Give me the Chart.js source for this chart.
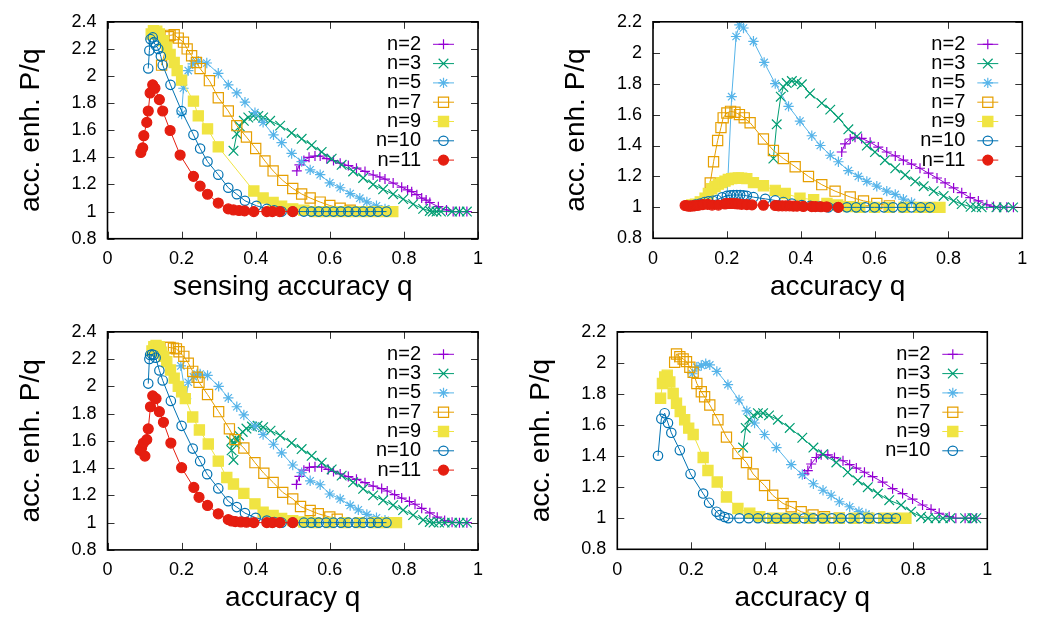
<!DOCTYPE html>
<html lang="en">
<head>
<meta charset="UTF-8">
<title>Accuracy enhancement P/q</title>
<script src="https://cdn.jsdelivr.net/npm/chart.js"></script>
<style>
    body { margin: 0; background: #fff; }
    #wrap { position: relative; width: 1038px; height: 619px; }
    #wrap canvas { position: absolute; }
</style>
</head>
<body>
<div id="wrap">
    <canvas id="pA" width="519" height="310" style="left:0;top:0"></canvas>
    <canvas id="pB" width="519" height="310" style="left:519px;top:0"></canvas>
    <canvas id="pC" width="519" height="309" style="left:0;top:310px"></canvas>
    <canvas id="pD" width="519" height="309" style="left:519px;top:310px"></canvas>
</div>
<script>
// series labels and axis ticks
const seriesNames = ['n=2', 'n=3', 'n=5', 'n=7', 'n=9', 'n=10', 'n=11'];
const xTickValues = [0, 0.2, 0.4, 0.6, 0.8, 1];

// panel A (top left) : [q, P/q]
const a2 = [[0.511,1.30],[0.518,1.345],[0.53,1.376],[0.544,1.40],[0.56,1.41],[0.574,1.41],[0.592,1.39],[0.61,1.376],[0.628,1.357],[0.65,1.34],[0.672,1.32],[0.695,1.296],[0.717,1.27],[0.735,1.255],[0.749,1.24],[0.771,1.21],[0.794,1.18],[0.81,1.16],[0.821,1.147],[0.835,1.125],[0.848,1.10],[0.86,1.085],[0.87,1.067],[0.893,1.036],[0.915,1.012],[0.933,1.0],[0.95,1.0],[0.97,1.0]];
const a3 = [[0.34,1.448],[0.349,1.573],[0.357,1.629],[0.368,1.67],[0.38,1.694],[0.394,1.706],[0.407,1.706],[0.42,1.694],[0.439,1.67],[0.466,1.634],[0.497,1.58],[0.524,1.537],[0.551,1.49],[0.578,1.44],[0.605,1.39],[0.632,1.345],[0.663,1.296],[0.69,1.248],[0.717,1.2],[0.744,1.164],[0.771,1.128],[0.798,1.092],[0.825,1.055],[0.852,1.02],[0.87,1.005],[0.878,1.0],[0.888,1.0],[0.9,1.0],[0.93,1.0],[0.95,1.0],[0.97,1.0]];
const a5 = [[0.2,1.72],[0.205,1.91],[0.218,2.04],[0.23,2.09],[0.245,2.11],[0.268,2.096],[0.299,2.02],[0.326,1.935],[0.349,1.875],[0.371,1.807],[0.398,1.73],[0.42,1.658],[0.448,1.566],[0.47,1.508],[0.497,1.429],[0.524,1.369],[0.547,1.308],[0.574,1.272],[0.6,1.212],[0.628,1.176],[0.655,1.133],[0.681,1.099],[0.7,1.072],[0.726,1.043],[0.749,1.02],[0.76,1.01]];
const a7 = [[0.146,2.08],[0.165,2.29],[0.169,2.30],[0.18,2.305],[0.191,2.28],[0.205,2.25],[0.215,2.2],[0.227,2.15],[0.24,2.10],[0.25,2.055],[0.275,1.966],[0.299,1.84],[0.326,1.742],[0.349,1.634],[0.375,1.55],[0.4,1.465],[0.425,1.373],[0.447,1.30],[0.473,1.23],[0.5,1.17],[0.524,1.13],[0.547,1.10],[0.574,1.07],[0.6,1.045],[0.628,1.025],[0.655,1.01]];
const a9 = [[0.118,2.31],[0.124,2.335],[0.133,2.33],[0.14,2.31],[0.151,2.26],[0.16,2.21],[0.169,2.16],[0.18,2.10],[0.188,2.04],[0.2,1.97],[0.232,1.815],[0.245,1.706],[0.27,1.61],[0.299,1.477],[0.395,1.152],[0.42,1.1],[0.447,1.067],[0.47,1.04],[0.5,1.02],[0.53,1.01],[0.56,1.0],[0.59,1.0],[0.62,1.0],[0.65,1.0],[0.68,1.0],[0.71,1.0],[0.74,1.0],[0.77,1.0]];
const a10 = [[0.11,2.056],[0.113,2.188],[0.116,2.272],[0.122,2.285],[0.125,2.248],[0.131,2.224],[0.137,2.2],[0.144,2.145],[0.149,2.08],[0.17,1.935],[0.2,1.742],[0.232,1.566],[0.25,1.465],[0.27,1.369],[0.299,1.272],[0.326,1.176],[0.349,1.128],[0.371,1.08],[0.402,1.043],[0.43,1.02],[0.45,1.01],[0.47,1.0],[0.5,1.0],[0.53,1.0],[0.55,1.0],[0.57,1.0],[0.59,1.0],[0.61,1.0],[0.63,1.0],[0.65,1.0],[0.67,1.0],[0.69,1.0],[0.71,1.0],[0.73,1.0],[0.753,1.0]];
const a11 = [[0.09,1.436],[0.095,1.47],[0.098,1.56],[0.106,1.658],[0.11,1.742],[0.115,1.875],[0.122,1.935],[0.128,1.91],[0.14,1.826],[0.149,1.742],[0.169,1.598],[0.196,1.417],[0.232,1.26],[0.25,1.188],[0.27,1.128],[0.299,1.063],[0.326,1.02],[0.34,1.012],[0.355,1.008],[0.37,1.005],[0.395,1.0],[0.43,1.0],[0.445,1.0],[0.465,1.0],[0.5,1.0]];

// panel B (top right)
const b2 = [[0.511,1.358],[0.52,1.41],[0.534,1.442],[0.547,1.453],[0.565,1.446],[0.588,1.421],[0.61,1.39],[0.633,1.358],[0.656,1.333],[0.678,1.305],[0.7,1.28],[0.723,1.253],[0.746,1.221],[0.769,1.19],[0.791,1.158],[0.814,1.126],[0.836,1.095],[0.859,1.063],[0.881,1.042],[0.904,1.017],[0.922,1.005],[0.94,1.0],[0.958,1.0],[0.976,1.0]];
const b3 = [[0.326,1.316],[0.335,1.537],[0.346,1.716],[0.353,1.779],[0.362,1.804],[0.376,1.817],[0.389,1.81],[0.403,1.796],[0.425,1.737],[0.457,1.674],[0.48,1.632],[0.502,1.579],[0.529,1.505],[0.552,1.459],[0.579,1.4],[0.601,1.358],[0.628,1.305],[0.656,1.253],[0.683,1.21],[0.71,1.168],[0.733,1.137],[0.76,1.105],[0.787,1.074],[0.814,1.042],[0.836,1.021],[0.86,1.004],[0.875,1.0],[0.89,1.0],[0.93,1.0],[0.95,1.0],[0.975,1.0]];
const b5 = [[0.2,1.04],[0.213,1.716],[0.225,2.105],[0.234,2.18],[0.245,2.16],[0.272,2.074],[0.301,1.937],[0.331,1.8],[0.367,1.653],[0.398,1.558],[0.43,1.463],[0.453,1.4],[0.48,1.337],[0.502,1.295],[0.529,1.238],[0.556,1.2],[0.579,1.168],[0.606,1.137],[0.633,1.105],[0.656,1.084],[0.678,1.053],[0.7,1.032]];
const b7 = [[0.155,1.158],[0.164,1.295],[0.175,1.432],[0.184,1.516],[0.19,1.579],[0.2,1.61],[0.21,1.621],[0.222,1.615],[0.234,1.6],[0.247,1.579],[0.263,1.547],[0.299,1.442],[0.326,1.368],[0.353,1.316],[0.385,1.263],[0.421,1.2],[0.457,1.147],[0.493,1.105],[0.534,1.067],[0.57,1.042],[0.606,1.025],[0.64,1.01]];
const b9 = [[0.105,1.015],[0.115,1.02],[0.128,1.035],[0.141,1.06],[0.15,1.09],[0.159,1.12],[0.168,1.135],[0.177,1.15],[0.186,1.16],[0.195,1.17],[0.204,1.18],[0.213,1.186],[0.222,1.188],[0.231,1.19],[0.24,1.188],[0.254,1.186],[0.272,1.16],[0.299,1.14],[0.331,1.11],[0.358,1.09],[0.398,1.06],[0.435,1.05],[0.471,1.025],[0.5,1.015],[0.53,1.005],[0.56,1.0],[0.6,1.0],[0.64,1.0],[0.68,1.0],[0.72,1.0],[0.75,1.0],[0.777,1.0]];
const b10 = [[0.101,1.01],[0.115,1.018],[0.128,1.025],[0.14,1.035],[0.15,1.04],[0.162,1.043],[0.173,1.048],[0.187,1.065],[0.2,1.075],[0.209,1.078],[0.218,1.08],[0.227,1.08],[0.236,1.08],[0.245,1.078],[0.254,1.075],[0.272,1.066],[0.304,1.055],[0.331,1.045],[0.353,1.035],[0.376,1.025],[0.403,1.015],[0.426,1.01],[0.45,1.005],[0.475,1.0],[0.5,1.0],[0.525,1.0],[0.55,1.0],[0.575,1.0],[0.6,1.0],[0.625,1.0],[0.65,1.0],[0.675,1.0],[0.7,1.0],[0.725,1.0],[0.75,1.0]];
const b11 = [[0.087,1.012],[0.092,1.01],[0.097,1.008],[0.102,1.008],[0.107,1.01],[0.112,1.01],[0.118,1.012],[0.125,1.015],[0.135,1.018],[0.148,1.02],[0.16,1.015],[0.177,1.015],[0.195,1.022],[0.2,1.025],[0.207,1.025],[0.214,1.025],[0.222,1.024],[0.23,1.022],[0.24,1.02],[0.254,1.018],[0.268,1.016],[0.299,1.014],[0.331,1.012],[0.34,1.01],[0.35,1.01],[0.36,1.01],[0.37,1.01],[0.38,1.008],[0.39,1.008],[0.407,1.006],[0.43,1.005],[0.44,1.005],[0.455,1.004],[0.47,1.003],[0.502,1.0]];

// panel C (bottom left)
const c2 = [[0.51,1.28],[0.518,1.34],[0.53,1.385],[0.545,1.405],[0.56,1.41],[0.578,1.408],[0.596,1.39],[0.61,1.376],[0.628,1.357],[0.65,1.338],[0.672,1.318],[0.695,1.293],[0.717,1.268],[0.74,1.25],[0.755,1.232],[0.775,1.205],[0.794,1.18],[0.815,1.155],[0.83,1.135],[0.848,1.105],[0.87,1.072],[0.89,1.04],[0.91,1.015],[0.93,1.003],[0.95,1.0],[0.97,1.0]];
const c3 = [[0.34,1.46],[0.335,1.53],[0.334,1.6],[0.344,1.58],[0.349,1.61],[0.355,1.64],[0.365,1.665],[0.375,1.69],[0.39,1.705],[0.405,1.71],[0.42,1.70],[0.44,1.675],[0.466,1.64],[0.497,1.585],[0.524,1.54],[0.551,1.49],[0.578,1.44],[0.605,1.39],[0.632,1.345],[0.663,1.296],[0.69,1.248],[0.717,1.2],[0.744,1.164],[0.771,1.128],[0.798,1.092],[0.825,1.055],[0.852,1.02],[0.87,1.005],[0.88,1.0],[0.895,1.0],[0.91,1.0],[0.93,1.0],[0.95,1.0],[0.97,1.0]];
const c5 = [[0.198,2.15],[0.212,1.91],[0.218,2.03],[0.232,2.07],[0.242,2.09],[0.25,2.09],[0.27,2.08],[0.3,2.0],[0.326,1.916],[0.349,1.85],[0.368,1.79],[0.398,1.708],[0.42,1.647],[0.448,1.575],[0.47,1.512],[0.5,1.423],[0.524,1.367],[0.547,1.307],[0.574,1.278],[0.6,1.21],[0.628,1.174],[0.655,1.126],[0.677,1.094],[0.7,1.06],[0.726,1.036],[0.749,1.017]];
const c7 = [[0.164,2.285],[0.169,2.285],[0.178,2.28],[0.186,2.275],[0.193,2.254],[0.206,2.22],[0.218,2.17],[0.23,2.11],[0.242,2.067],[0.247,2.03],[0.27,1.94],[0.3,1.814],[0.329,1.688],[0.344,1.609],[0.368,1.548],[0.398,1.44],[0.422,1.362],[0.447,1.295],[0.473,1.222],[0.5,1.174],[0.521,1.118],[0.547,1.089],[0.569,1.065],[0.6,1.041],[0.62,1.025]];
const c9 = [[0.12,2.26],[0.125,2.29],[0.131,2.3],[0.14,2.29],[0.146,2.25],[0.152,2.22],[0.16,2.18],[0.17,2.12],[0.18,2.06],[0.191,2.0],[0.2,1.96],[0.21,1.91],[0.23,1.775],[0.248,1.68],[0.272,1.577],[0.299,1.451],[0.322,1.331],[0.34,1.283],[0.368,1.215],[0.398,1.138],[0.42,1.077],[0.447,1.053],[0.47,1.03],[0.5,1.015],[0.53,1.005],[0.56,1.0],[0.6,1.0],[0.64,1.0],[0.68,1.0],[0.72,1.0],[0.75,1.0],[0.78,1.0]];
const c10 = [[0.11,2.02],[0.113,2.2],[0.115,2.23],[0.12,2.235],[0.125,2.23],[0.13,2.21],[0.14,2.116],[0.149,2.043],[0.171,1.893],[0.2,1.71],[0.23,1.543],[0.25,1.451],[0.269,1.355],[0.299,1.251],[0.326,1.157],[0.349,1.114],[0.371,1.07],[0.4,1.036],[0.43,1.015],[0.45,1.005],[0.47,1.0],[0.5,1.0],[0.53,1.0],[0.55,1.0],[0.57,1.0],[0.59,1.0],[0.61,1.0],[0.63,1.0],[0.65,1.0],[0.67,1.0],[0.69,1.0],[0.71,1.0],[0.73,1.0],[0.753,1.0]];
const c11 = [[0.092,1.548],[0.088,1.53],[0.101,1.488],[0.097,1.584],[0.106,1.609],[0.11,1.688],[0.116,1.85],[0.122,1.93],[0.131,1.91],[0.14,1.814],[0.151,1.736],[0.171,1.584],[0.2,1.403],[0.233,1.258],[0.247,1.186],[0.27,1.126],[0.299,1.065],[0.326,1.022],[0.335,1.012],[0.345,1.008],[0.36,1.005],[0.375,1.003],[0.395,1.0],[0.43,1.0],[0.445,1.0],[0.465,1.0],[0.5,1.0]];

// panel D (bottom right)
const d2 = [[0.506,1.285],[0.515,1.307],[0.524,1.349],[0.538,1.391],[0.551,1.408],[0.569,1.408],[0.587,1.391],[0.61,1.37],[0.628,1.345],[0.646,1.323],[0.668,1.296],[0.69,1.268],[0.717,1.233],[0.744,1.19],[0.771,1.159],[0.798,1.123],[0.825,1.085],[0.848,1.057],[0.87,1.032],[0.897,1.01],[0.915,1.0],[0.94,1.0],[0.955,1.0],[0.97,1.0]];
const d3 = [[0.34,1.455],[0.347,1.581],[0.357,1.634],[0.368,1.662],[0.38,1.676],[0.394,1.676],[0.41,1.662],[0.434,1.634],[0.466,1.581],[0.5,1.518],[0.53,1.455],[0.556,1.412],[0.592,1.359],[0.623,1.296],[0.65,1.243],[0.677,1.2],[0.704,1.159],[0.735,1.116],[0.767,1.085],[0.794,1.042],[0.821,1.01],[0.84,1.0],[0.86,1.0],[0.88,1.0],[0.9,1.0],[0.94,1.0],[0.96,1.0],[0.97,1.0]];
const d5 = [[0.203,1.93],[0.215,1.972],[0.227,1.983],[0.239,1.994],[0.25,1.987],[0.269,1.945],[0.299,1.86],[0.329,1.761],[0.35,1.691],[0.371,1.613],[0.398,1.539],[0.43,1.455],[0.47,1.345],[0.5,1.281],[0.53,1.222],[0.556,1.18],[0.578,1.148],[0.6,1.106],[0.628,1.074],[0.653,1.042],[0.672,1.027],[0.68,1.015]];
const d7 = [[0.155,2.004],[0.16,2.057],[0.169,2.04],[0.178,2.025],[0.187,2.008],[0.196,1.972],[0.205,1.94],[0.215,1.867],[0.227,1.814],[0.236,1.782],[0.25,1.729],[0.272,1.634],[0.295,1.522],[0.326,1.416],[0.349,1.359],[0.367,1.285],[0.398,1.211],[0.42,1.148],[0.448,1.095],[0.47,1.074],[0.497,1.042],[0.529,1.021],[0.56,1.01],[0.6,1.0]];
const d9 = [[0.117,1.772],[0.122,1.867],[0.128,1.909],[0.135,1.92],[0.142,1.877],[0.151,1.803],[0.16,1.74],[0.17,1.687],[0.182,1.634],[0.193,1.58],[0.205,1.539],[0.232,1.391],[0.245,1.307],[0.27,1.233],[0.295,1.137],[0.326,1.063],[0.358,1.032],[0.385,1.01],[0.42,1.0],[0.45,1.0],[0.48,1.0],[0.52,1.0],[0.56,1.0],[0.6,1.0],[0.64,1.0],[0.68,1.0],[0.72,1.0],[0.75,1.0],[0.78,1.0]];
const d10 = [[0.11,1.402],[0.119,1.64],[0.128,1.676],[0.137,1.613],[0.146,1.55],[0.169,1.438],[0.198,1.285],[0.232,1.159],[0.248,1.1],[0.268,1.042],[0.277,1.02],[0.29,1.008],[0.3,1.0],[0.33,1.0],[0.355,1.0],[0.38,1.0],[0.405,1.0],[0.43,1.0],[0.455,1.0],[0.48,1.0],[0.505,1.0],[0.53,1.0],[0.555,1.0],[0.58,1.0],[0.605,1.0],[0.63,1.0],[0.655,1.0],[0.68,1.0],[0.705,1.0],[0.73,1.0],[0.753,1.0]];

// look of each series (gnuplot default line types)
const looks = {
    'n=2':  { color: '#9400d3', point: 'cross',    radius: 5,   filled: false },
    'n=3':  { color: '#009e73', point: 'crossRot', radius: 6.8, filled: false },
    'n=5':  { color: '#56b4e9', point: 'star',     radius: 5.2, filled: false },
    'n=7':  { color: '#e69f00', point: 'rect',     radius: 7.2, filled: false },
    'n=9':  { color: '#f0e442', point: 'rect',     radius: 7.2, filled: true },
    'n=10': { color: '#0072b2', point: 'circle',   radius: 4.7, filled: false },
    'n=11': { color: '#e51e10', point: 'circle',   radius: 5,   filled: true }
};

const FONT = '"Liberation Sans", Arial, Helvetica, sans-serif';
Chart.defaults.font.family = FONT;
Chart.defaults.color = '#000';

// inward ticks on all four sides, frame and key inside the plot
const frameAndKey = {
    id: 'frameAndKey',
    afterDraw(chart) {
        const { ctx, chartArea: a, scales: { x, y } } = chart;
        ctx.save();
        ctx.strokeStyle = '#333';
        ctx.lineWidth = 1;
        ctx.beginPath();
        xTickValues.forEach(v => {
            const px = Math.round(x.getPixelForValue(v)) + 0.5;
            ctx.moveTo(px, a.bottom); ctx.lineTo(px, a.bottom - 7);
            ctx.moveTo(px, a.top); ctx.lineTo(px, a.top + 7);
        });
        y.ticks.forEach(t => {
            const py = Math.round(y.getPixelForValue(t.value)) + 0.5;
            ctx.moveTo(a.left, py); ctx.lineTo(a.left + 7, py);
            ctx.moveTo(a.right, py); ctx.lineTo(a.right - 7, py);
        });
        ctx.stroke();

        ctx.strokeStyle = '#000';
        ctx.lineWidth = 1.6;
        ctx.strokeRect(a.left, a.top, a.right - a.left, a.bottom - a.top);

        ctx.font = '20px ' + FONT;
        ctx.textAlign = 'right';
        ctx.textBaseline = 'middle';
        chart.data.datasets.forEach((ds, i) => {
            const ky = a.top + 22.5 + i * 19.3;
            ctx.fillStyle = '#000';
            ctx.fillText(ds.label, a.right - 57, ky);
            ctx.strokeStyle = ds.borderColor;
            ctx.lineWidth = 1;
            ctx.beginPath();
            ctx.moveTo(a.right - 45, ky);
            ctx.lineTo(a.right - 24, ky);
            ctx.stroke();
            ctx.fillStyle = ds.pointBackgroundColor;
            ctx.strokeStyle = ds.pointBorderColor;
            ctx.lineWidth = ds.pointBorderWidth;
            Chart.helpers.drawPoint(ctx, { pointStyle: ds.pointStyle, radius: ds.pointRadius, borderWidth: ds.pointBorderWidth, rotation: 0 }, a.right - 34.5, ky);
        });
        ctx.restore();
    }
};

function makeDatasets(list) {
    return list.map((pts, i) => {
        const name = seriesNames[i];
        const lk = looks[name];
        return {
            label: name,
            data: pts,
            showLine: true,
            borderColor: lk.color,
            borderWidth: 1,
            pointStyle: lk.point,
            pointRadius: lk.radius,
            pointHoverRadius: lk.radius,
            pointBorderColor: lk.color,
            pointBackgroundColor: lk.filled ? lk.color : 'rgba(0,0,0,0)',
            pointBorderWidth: 1.2,
            order: 20 - i
        };
    });
}

function drawPanel(id, series, xTitle, yMax, box) {
    new Chart(document.getElementById(id), {
        type: 'scatter',
        data: { datasets: makeDatasets(series) },
        options: {
            responsive: false,
            animation: false,
            events: [],
            layout: { padding: { left: 0, top: box.top, right: box.right, bottom: 0 } },
            plugins: { legend: { display: false }, tooltip: { enabled: false } },
            scales: {
                x: {
                    type: 'linear', min: 0, max: 1,
                    grid: { display: false, drawTicks: false },
                    border: { display: false },
                    ticks: { stepSize: 0.2, padding: 9.5, font: { size: 18 }, color: '#000',
                        callback: v => Math.round(v * 10) / 10 },
                    title: { display: true, text: xTitle, font: { size: 28 }, color: '#000',
                        padding: { top: 0, bottom: box.xTitlePad } },
                    afterFit: s => { s.height = box.xH; }
                },
                y: {
                    type: 'linear', min: 0.8, max: yMax,
                    grid: { display: false, drawTicks: false },
                    border: { display: false },
                    ticks: { stepSize: 0.2, padding: 11, font: { size: 18 }, color: '#000',
                        callback: v => Math.round(v * 10) / 10 },
                    title: { display: true, text: 'acc. enh. P/q', font: { size: 28 }, color: '#000',
                        padding: { top: box.yTitlePad, bottom: 0 } },
                    afterFit: s => { s.width = box.yW; }
                }
            }
        },
        plugins: [frameAndKey]
    });
}

drawPanel('pA', [a2, a3, a5, a7, a9, a10, a11], 'sensing accuracy q', 2.4,
    { top: 18, right: 41, yW: 107.5, xH: 71.3, yTitlePad: 14.2, xTitlePad: 6 });
drawPanel('pB', [b2, b3, b5, b7, b9, b10, b11], 'accuracy q', 2.2,
    { top: 16.7, right: 15.7, yW: 134, xH: 71.7, yTitlePad: 40.7, xTitlePad: 6.4 });
drawPanel('pC', [c2, c3, c5, c7, c9, c10, c11], 'accuracy q', 2.4,
    { top: 19, right: 41, yW: 107.5, xH: 69.1, yTitlePad: 14.2, xTitlePad: 3.8 });
drawPanel('pD', [d2, d3, d5, d7, d9, d10], 'accuracy q', 2.2,
    { top: 19.3, right: 50.7, yW: 98.3, xH: 69.7, yTitlePad: 5, xTitlePad: 4.4 });
</script>
</body>
</html>
